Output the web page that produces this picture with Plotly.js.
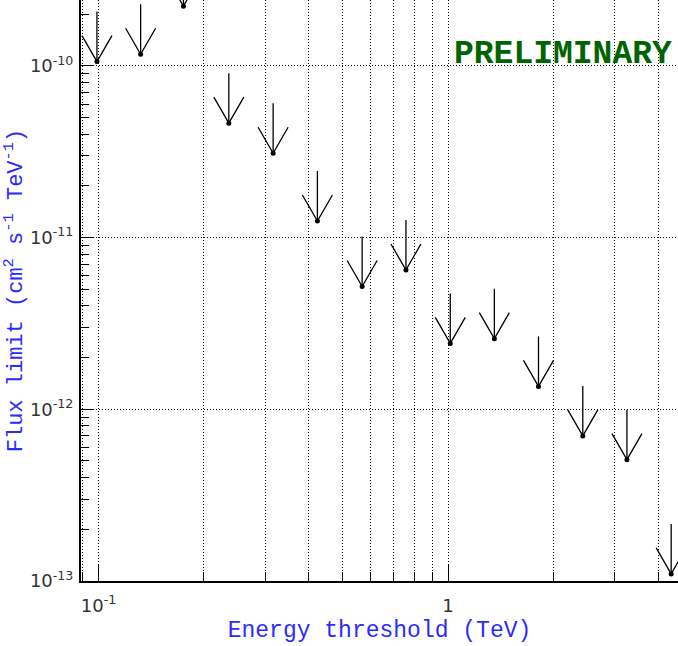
<!DOCTYPE html>
<html>
<head>
<meta charset="utf-8">
<script src="https://cdn.plot.ly/plotly-3.0.1.min.js"></script>
<style>html,body{margin:0;padding:0;background:#fff;}#chart{width:678px;height:646px;}</style>
</head>
<body>
<div id="chart"></div>
<script>
// Energy thresholds (TeV)
const energy = [0.099, 0.132, 0.175, 0.236, 0.316, 0.423, 0.568, 0.758, 1.015, 1.357, 1.815, 2.43, 3.25, 4.35];
// Flux upper limits (cm^-2 s^-1 TeV^-1)
const fluxLimit = [1.06e-10, 1.17e-10, 2.23e-10, 4.64e-11, 3.10e-11, 1.25e-11, 5.19e-12, 6.48e-12, 2.42e-12, 2.58e-12, 1.36e-12, 7.0e-13, 5.09e-13, 1.10e-13];
const yTickVals = [1e-13, 1e-12, 1e-11, 1e-10];
const yTickText = ['10<sup>-13</sup>', '10<sup>-12</sup>', '10<sup>-11</sup>', '10<sup>-10</sup>'];
const xTickVals = [0.1, 1];
const xTickText = ['10<sup>-1</sup>', '1'];
const xMinorVals = [0.09, 0.2, 0.3, 0.4, 0.5, 0.6, 0.7, 0.8, 0.9, 2, 3, 4];
const yMinorVals = [2e-13,3e-13,4e-13,5e-13,6e-13,7e-13,8e-13,9e-13,
                    2e-12,3e-12,4e-12,5e-12,6e-12,7e-12,8e-12,9e-12,
                    2e-11,3e-11,4e-11,5e-11,6e-11,7e-11,8e-11,9e-11,
                    2e-10];

const W = 678, H = 646;
const margin = {l: 81, r: 0, t: 0, b: 65};
const xRange = [-1.05, 0.658];
const yRange = [-13, -9.616];
const plotW = W - margin.l - margin.r;
const plotH = H - margin.t - margin.b;
const pxPerDecX = plotW / (xRange[1] - xRange[0]);
const pxPerDecY = plotH / (yRange[1] - yRange[0]);

// Upper-limit arrow glyph size in pixels, converted through the log scales
const shaftPx = 50, armUpPx = 26, armSidePx = 15;
const fShaft = Math.pow(10, shaftPx / pxPerDecY);
const fArmUp = Math.pow(10, armUpPx / pxPerDecY);
const fArmSide = Math.pow(10, armSidePx / pxPerDecX);

const ax = [], ay = [];
energy.forEach((e, i) => {
  const f = fluxLimit[i];
  ax.push(e, e, null, e / fArmSide, e, e * fArmSide, null);
  ay.push(f, f * fShaft, null, f * fArmUp, f, f * fArmUp, null);
});

const traces = [
  {x: ax, y: ay, type: 'scatter', mode: 'lines', line: {color: '#000', width: 1.3}, hoverinfo: 'skip', showlegend: false},
  {x: energy, y: fluxLimit, type: 'scatter', mode: 'markers', marker: {color: '#000', size: 5}, showlegend: false}
];

const tickFont = {family: 'DejaVu Sans', size: 18, color: '#333'};

const layout = {
  width: W, height: H,
  margin: margin,
  paper_bgcolor: '#fff', plot_bgcolor: '#fff',
  showlegend: false,
  xaxis: {
    type: 'log', range: xRange,
    tickmode: 'array', tickvals: xTickVals, ticktext: xTickText,
    ticks: 'inside', ticklen: 17, tickcolor: '#000', tickwidth: 1,
    ticklabelstandoff: 7,
    tickfont: tickFont,
    showline: true, linecolor: '#000', linewidth: 2, mirror: false,
    showgrid: true, gridcolor: '#000', gridwidth: 1, griddash: '1px,2px',
    minor: {tickmode: 'array', tickvals: xMinorVals,
            ticks: 'inside', ticklen: 9, tickcolor: '#000',
            showgrid: true, gridcolor: '#000', gridwidth: 1, griddash: '1px,2px'},
    zeroline: false,
    title: {text: 'Energy threshold (TeV)', font: {family: 'Liberation Mono', size: 23, color: '#2b2bff'}, standoff: 6}
  },
  yaxis: {
    type: 'log', range: yRange,
    tickmode: 'array', tickvals: yTickVals, ticktext: yTickText,
    ticks: 'inside', ticklen: 12, tickcolor: '#000', tickwidth: 1,
    ticklabelstandoff: 2,
    tickfont: tickFont,
    showline: true, linecolor: '#000', linewidth: 2, mirror: false,
    showgrid: true, gridcolor: '#000', gridwidth: 1, griddash: '1px,2px',
    minor: {tickmode: 'array', tickvals: yMinorVals,
            ticks: 'inside', ticklen: 8, tickcolor: '#000', showgrid: false},
    zeroline: false,
    title: {text: 'Flux limit (cm<sup>2</sup> s<sup>-1</sup> TeV<sup>-1</sup>)', font: {family: 'Liberation Mono', size: 22, color: '#2b2bff'}, standoff: 2}
  },
  annotations: [{
    text: '<b>PRELIMINARY</b>', xref: 'paper', yref: 'paper',
    x: 1, y: 1 - 54 / plotH, xanchor: 'right', yanchor: 'middle', xshift: -4,
    showarrow: false,
    font: {family: 'Liberation Mono', size: 33, color: '#006400'}
  }]
};

Plotly.newPlot('chart', traces, layout, {staticPlot: true, displayModeBar: false});
</script>
</body>
</html>
